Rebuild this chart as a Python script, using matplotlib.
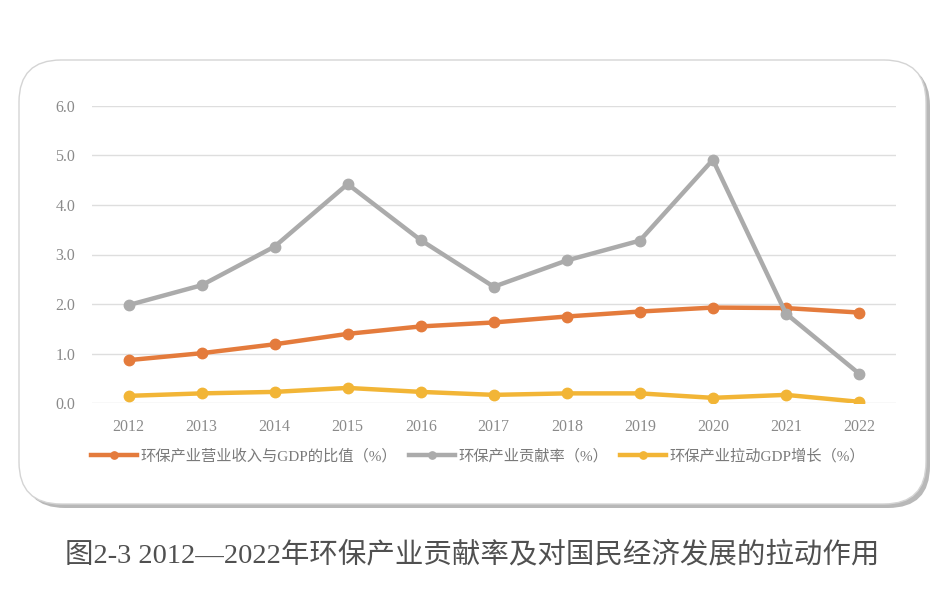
import matplotlib
matplotlib.use("Agg")
import matplotlib.pyplot as plt
from matplotlib.patches import FancyBboxPatch

years = ["2012", "2013", "2014", "2015", "2016", "2017", "2018", "2019", "2020", "2021", "2022"]
ratio_gdp = [0.87, 1.01, 1.19, 1.40, 1.55, 1.63, 1.75, 1.85, 1.93, 1.92, 1.83]
contribution = [1.98, 2.38, 3.16, 4.42, 3.29, 2.35, 2.88, 3.28, 4.91, 1.81, 0.60]
pull_gdp = [0.15, 0.20, 0.23, 0.31, 0.23, 0.17, 0.20, 0.20, 0.11, 0.17, 0.03]
series_names = ["环保产业营业收入与GDP的比值（%）", "环保产业贡献率（%）", "环保产业拉动GDP增长（%）"]
yticks = [0.0, 1.0, 2.0, 3.0, 4.0, 5.0, 6.0]
caption = "图2-3 2012—2022年环保产业贡献率及对国民经济发展的拉动作用"

colors = ["#E47B3C", "#ABABAB", "#F2B536"]
fam = ["Liberation Serif", "Noto Sans CJK SC", "DejaVu Sans"]
plt.rcParams["font.family"] = fam

W, H = 947, 603
fig = plt.figure(figsize=(W / 100, H / 100), dpi=100)

# background frame
bg = fig.add_axes([0, 0, 1, 1], zorder=0)
bg.set_xlim(0, W)
bg.set_ylim(H, 0)
bg.axis("off")
x0, y0, x1, y1 = 19, 60, 926, 504
r = 42
shadow = FancyBboxPatch((x0 + 4, y0 + 4), x1 - x0, y1 - y0,
                        boxstyle=f"round,pad=0,rounding_size={r}",
                        facecolor="#b8b8b8", edgecolor="none")
bg.add_patch(shadow)
box = FancyBboxPatch((x0, y0), x1 - x0, y1 - y0,
                     boxstyle=f"round,pad=0,rounding_size={r}",
                     facecolor="white", edgecolor="#d4d4d4", linewidth=1.0)
bg.add_patch(box)

ax = fig.add_axes([92 / W, 1 - 403.3 / H, 803.5 / W, (403.3 - 105.7) / H], zorder=1)
ax.patch.set_alpha(0)
x = list(range(len(years)))
for vals, c, name in zip([ratio_gdp, contribution, pull_gdp], colors, series_names):
    ax.plot(x, vals, color=c, lw=3.2, marker="o", markersize=7.5,
            label=name, solid_joinstyle="round", zorder=3)

ax.set_xlim(-0.5, len(years) - 0.5)
ax.set_ylim(0, 6)
ax.set_yticks(yticks)
ax.set_yticklabels([f"{v:.1f}" for v in yticks])
ax.set_xticks(x)
ax.set_xticklabels(years)
ax.tick_params(length=0, labelsize=11.5, colors="#8a8a8a")
ax.tick_params(axis="y", pad=12)
ax.tick_params(axis="x", pad=11)
for s in ax.spines.values():
    s.set_visible(False)
ax.grid(axis="y", color="#dedede", lw=1.0)
ax.set_axisbelow(True)

leg = ax.legend(loc="center", bbox_to_anchor=(478 / W, 1 - 456 / H),
                bbox_transform=fig.transFigure, ncol=3, frameon=False,
                fontsize=11, handlelength=3.0, handletextpad=0.2,
                columnspacing=0.8, labelcolor="#7a7a7a", markerscale=0.7)

fig.text(472 / W, 1 - 555 / H, caption, ha="center", va="center",
         fontsize=20.5, color="#505050", family=fam)

fig.savefig("out.png", dpi=100)
